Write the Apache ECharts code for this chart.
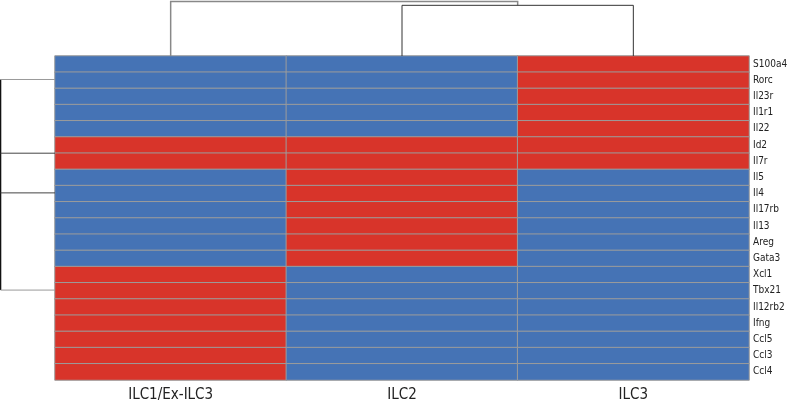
<!DOCTYPE html>
<html>
<head>
<meta charset="utf-8">
<script src="https://cdn.jsdelivr.net/npm/echarts@6/dist/echarts.min.js"></script>
<style>
  html, body { margin: 0; padding: 0; background: #fff; }
  #chart { width: 787px; height: 402px; }
</style>
</head>
<body>
<div id="chart"></div>
<script>
  // cell types (columns) and genes (rows, top to bottom)
  var cellTypes = ['ILC1/Ex-ILC3', 'ILC2', 'ILC3']
  var genes = ['S100a4', 'Rorc', 'Il23r', 'Il1r1', 'Il22', 'Id2', 'Il7r', 'Il5', 'Il4', 'Il17rb',
    'Il13', 'Areg', 'Gata3', 'Xcl1', 'Tbx21', 'Il12rb2', 'Ifng', 'Ccl5', 'Ccl3', 'Ccl4']
  // 1 = high (red), 0 = low (blue)
  var ilc1Values = [0, 0, 0, 0, 0, 1, 1, 0, 0, 0, 0, 0, 0, 1, 1, 1, 1, 1, 1, 1]
  var ilc2Values = [0, 0, 0, 0, 0, 1, 1, 1, 1, 1, 1, 1, 1, 0, 0, 0, 0, 0, 0, 0]
  var ilc3Values = [1, 1, 1, 1, 1, 1, 1, 0, 0, 0, 0, 0, 0, 0, 0, 0, 0, 0, 0, 0]

  // column dendrogram: merge heights (0 = leaves, 1 = top)
  var colMergeLow = 0.905
  var colMergeHigh = 0.975
  // row dendrogram: branch positions in row units, root height
  var rowBranches = [1.45, 6.0, 8.45, 14.45]
  var rowRoot = 0.99

  var RED = '#d8342a'
  var BLUE = '#4573b5'
  var FONT = "'Liberation Sans Narrow', 'DejaVu Sans Condensed', Arial, sans-serif"

  var cells = []
  ;[ilc1Values, ilc2Values, ilc3Values].forEach(function (col, ci) {
    col.forEach(function (v, ri) { cells.push([ci, ri, v]) })
  })

  var topLines = [
    {coords: [[0.5, 0], [0.5, colMergeHigh], [2.0, colMergeHigh], [2.0, colMergeLow]], lineStyle: {color: '#888', width: 1.5}},
    {coords: [[1.5, 0], [1.5, colMergeLow], [2.5, colMergeLow], [2.5, 0]]}
  ]
  var leftLines = [
    {coords: [[rowRoot, rowBranches[0]], [rowRoot, rowBranches[rowBranches.length - 1]]], lineStyle: {color: '#111', width: 1.5}}
  ]
  rowBranches.forEach(function (b, i) {
    leftLines.push({
      coords: [[rowRoot, b], [0, b]],
      lineStyle: {color: (i === 0 || i === 3) ? '#999' : '#444'}
    })
  })

  var chart = echarts.init(document.getElementById('chart'))
  chart.setOption({
    animation: false,
    grid: [
      {left: 55, right: 38, top: 56, bottom: 22, outerBoundsMode: 'none', containLabel: false},
      {left: 55, right: 38, top: 0, height: 56, outerBoundsMode: 'none'},
      {left: 0, width: 55, top: 56, bottom: 22, outerBoundsMode: 'none'}
    ],
    xAxis: [
      {
        type: 'category', data: cellTypes, gridIndex: 0, position: 'bottom',
        axisLine: {show: false}, axisTick: {show: false},
        axisLabel: {fontSize: 15, color: '#222', margin: 8, fontFamily: FONT}
      },
      {type: 'value', gridIndex: 1, min: 0, max: 3, show: false},
      {type: 'value', gridIndex: 2, min: 0, max: 1, inverse: true, show: false}
    ],
    yAxis: [
      {
        type: 'category', data: genes, gridIndex: 0, inverse: true, position: 'right',
        axisLine: {show: false}, axisTick: {show: false},
        axisLabel: {fontSize: 10, color: '#222', margin: 4, fontFamily: FONT}
      },
      {type: 'value', gridIndex: 1, min: 0, max: 1, show: false},
      {type: 'value', gridIndex: 2, min: 0, max: 20, inverse: true, show: false}
    ],
    visualMap: {
      type: 'piecewise', show: false, dimension: 2, seriesIndex: 0,
      pieces: [{value: 0, color: BLUE}, {value: 1, color: RED}]
    },
    series: [
      {
        type: 'heatmap', xAxisIndex: 0, yAxisIndex: 0, data: cells,
        itemStyle: {borderColor: '#9c9c9c', borderWidth: 1}
      },
      {
        type: 'lines', coordinateSystem: 'cartesian2d', xAxisIndex: 1, yAxisIndex: 1,
        polyline: true, silent: true, data: topLines,
        lineStyle: {color: '#333', width: 1, opacity: 1}
      },
      {
        type: 'lines', coordinateSystem: 'cartesian2d', xAxisIndex: 2, yAxisIndex: 2,
        polyline: true, silent: true, data: leftLines,
        lineStyle: {color: '#444', width: 1, opacity: 1}
      }
    ]
  })
</script>
</body>
</html>
